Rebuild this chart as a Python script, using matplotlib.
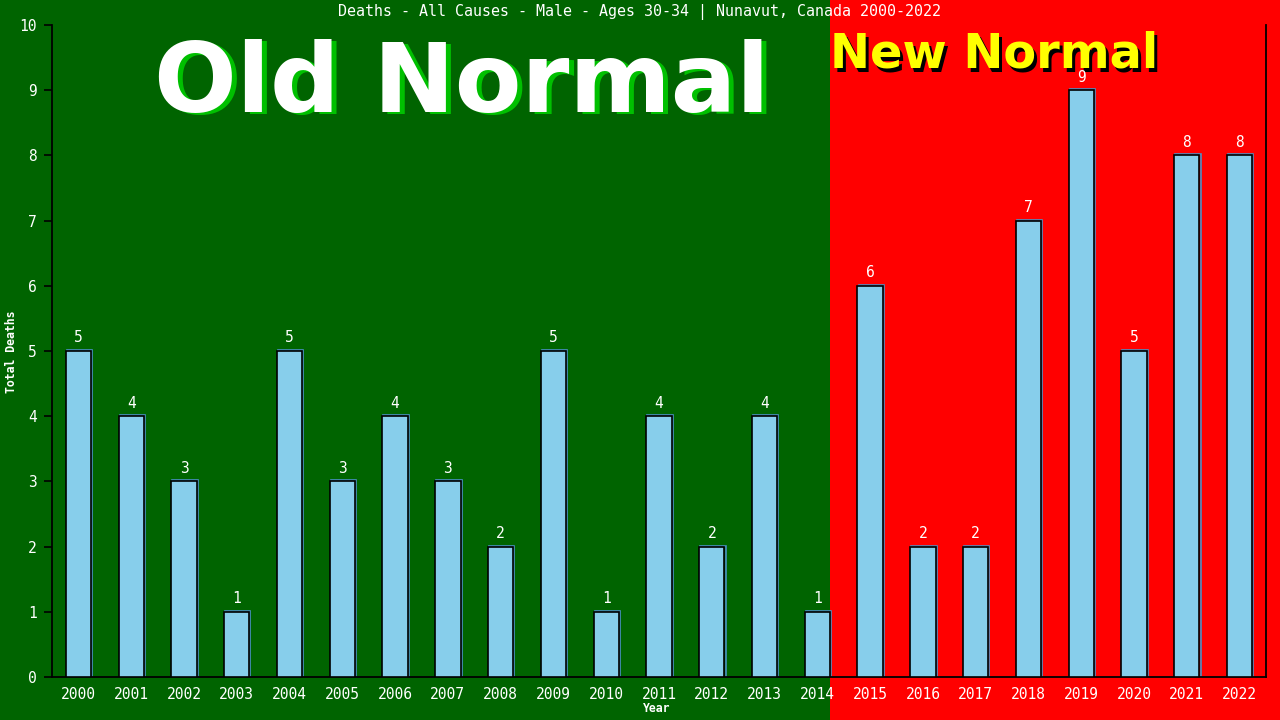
"""Deaths bar chart, Old Normal / New Normal split."""

import matplotlib

matplotlib.use("Agg")
import matplotlib.pyplot as plt
import matplotlib.transforms as mtransforms
from matplotlib.patches import Rectangle

years = list(range(2000, 2023))
deaths = [5, 4, 3, 1, 5, 3, 4, 3, 2, 5, 1, 4, 2, 4, 1, 6, 2, 2, 7, 9, 5, 8, 8]
title = "Deaths - All Causes - Male - Ages 30-34 | Nunavut, Canada 2000-2022"
split_year = 2014

GREEN = "#006400"
RED = "#ff0000"
BAR = "#87ceeb"
MONO = "DejaVu Sans Mono"

fig = plt.figure(figsize=(12.8, 7.2), dpi=100, facecolor=GREEN)
ax = fig.add_axes([52 / 1280, 43 / 720, 1214 / 1280, 652 / 720])
ax.set_facecolor("none")
ax.set_zorder(2)

x = list(range(len(years)))
width = 0.48

# thin blue shadow on the top/right of each bar
ax.bar(
    [i + 0.02 for i in x],
    [d + 0.015 for d in deaths],
    width=width,
    color="none",
    edgecolor="#4a8fc4",
    linewidth=1.2,
    zorder=2,
)
ax.bar(x, deaths, width=width, color=BAR, edgecolor="black", linewidth=1.2, zorder=3)

for i, d in zip(x, deaths):
    ax.text(
        i, d + 0.2, str(d), ha="center", va="center",
        color="white", fontsize=10.5, family=MONO, zorder=4,
    )

ax.set_xlim(-0.5, len(years) - 0.5)
ax.set_ylim(0, 10)
ax.set_yticks(range(0, 11))
ax.set_xticks(x)
ax.set_xticklabels([str(y) for y in years])

ax.tick_params(axis="y", colors="black", labelcolor="white", length=6, width=1.2,
               pad=5, labelsize=10.5)
ax.tick_params(axis="x", length=0, labelcolor="white", pad=7, labelsize=10.5)
for lab in ax.get_xticklabels() + ax.get_yticklabels():
    lab.set_family(MONO)

for side in ("left", "bottom", "right"):
    ax.spines[side].set_color("black")
    ax.spines[side].set_linewidth(1.3)
ax.spines["top"].set_visible(False)

ax.set_xlabel("Year", color="white", fontsize=8.3, family=MONO, fontweight="bold")
ax.set_ylabel("Total Deaths", color="white", fontsize=8.3, family=MONO,
              fontweight="bold")
ax.xaxis.set_label_coords((657 - 52) / 1214, (677 - 709) / 652)
ax.yaxis.set_label_coords((12 - 52) / 1214, (677 - 352) / 652)
ax.xaxis.label.set_va("center")
ax.yaxis.label.set_va("center")

# red background for the "new normal" years, full figure height
split_x = years.index(split_year) + width / 2
trans = mtransforms.blended_transform_factory(ax.transData, fig.transFigure)
fig.patches.append(
    Rectangle((split_x, 0), 100, 1, transform=trans, facecolor=RED,
              edgecolor="none", zorder=0)
)

fig.text(0.5, 1 - 12 / 720, title, ha="center", va="center",
         color="white", fontsize=10.8, family=MONO, zorder=3)


# big labels with drop shadow
def shadow_text(px, py, s, color, shadow, size, dx, dy):
    for off, c in (((dx, -dy), shadow), ((0, 0), color)):
        fig.text(
            (px + off[0]) / 1280, 1 - py / 720 + off[1] / 720, s,
            ha="center", va="baseline", color=c, fontsize=size,
            fontweight="bold", family="DejaVu Sans", zorder=1,
        )


shadow_text(462, 112, "Old Normal", "white", "#00c000", 70, 5, 2)
shadow_text(994, 68, "New Normal", "#ffff00", "black", 34.5, 3, 3)

fig.savefig("out.png", dpi=100, facecolor=fig.get_facecolor())
